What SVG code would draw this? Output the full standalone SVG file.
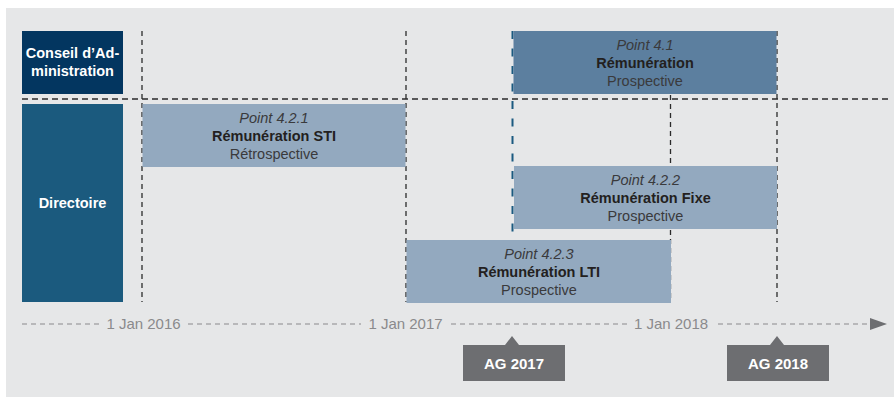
<svg xmlns="http://www.w3.org/2000/svg" width="894" height="397" viewBox="0 0 894 397">
<style>
  text { font-family: "Liberation Sans", Arial, Helvetica, sans-serif; text-anchor: middle; }
  .lbl { fill: #ffffff; font-weight: bold; font-size: 14.5px; }
  .it { font-style: italic; font-size: 14.5px; fill: #3a3a3c; }
  .bd { font-weight: bold; font-size: 14.5px; fill: #231f20; }
  .rg { font-size: 14.5px; fill: #3a3a3c; }
  .date { font-size: 15px; fill: #8a8a8c; }
  .ag { font-size: 15px; font-weight: bold; fill: #ffffff; }
  .vd { stroke: #2b2b2b; stroke-width: 1.3; stroke-dasharray: 5 4; fill: none; }
  .hd { stroke: #2b2b2b; stroke-width: 1.3; stroke-dasharray: 6 4; fill: none; }
  .tl { stroke: #8a8a8c; stroke-width: 1.2; stroke-dasharray: 5 4; fill: none; }
  .light { fill: #93a9bf; }
</style>
<rect x="6" y="8" width="888" height="389" fill="#e6e7e8"/>

<g id="connectors">
  <line class="hd" x1="22" y1="99" x2="888" y2="99"/>
  <line class="vd" x1="142" y1="31" x2="142" y2="302"/>
  <line class="vd" x1="406" y1="31" x2="406" y2="302"/>
  <line class="vd" x1="670.5" y1="95" x2="670.5" y2="302"/>
  <line class="vd" x1="777" y1="31" x2="777" y2="302"/>
  <line x1="512.5" y1="31" x2="512.5" y2="232" stroke="#1b5a80" stroke-width="2" stroke-dasharray="8 9.5"/>
  <line class="tl" x1="22" y1="324" x2="100" y2="324"/>
  <line class="tl" x1="188" y1="324" x2="361" y2="324"/>
  <line class="tl" x1="451" y1="324" x2="628" y2="324"/>
  <line class="tl" x1="718" y1="324" x2="870" y2="324"/>
  <polygon points="870,318 887,324 870,330" fill="#6d6e71"/>
</g>

<g id="conseil">
  <rect x="22" y="31" width="101" height="63" fill="#033660"/>
  <text class="lbl" x="72.5" y="58">Conseil d’Ad-</text>
  <text class="lbl" x="72.5" y="76">ministration</text>
</g>
<g id="directoire">
  <rect x="22" y="104" width="101" height="198" fill="#1b5a7e"/>
  <text class="lbl" x="72.5" y="208">Directoire</text>
</g>

<g id="point-4-2-1">
  <rect class="light" x="142.5" y="104" width="263" height="63"/>
  <text class="it" x="274" y="122.5">Point 4.2.1</text>
  <text class="bd" x="274" y="141">Rémunération STI</text>
  <text class="rg" x="274" y="159">Rétrospective</text>
</g>
<g id="point-4-1">
  <rect x="513.5" y="31" width="263" height="63" fill="#5c7f9f"/>
  <text class="it" x="645" y="49.5">Point 4.1</text>
  <text class="bd" x="645" y="68">Rémunération</text>
  <text class="rg" x="645" y="86">Prospective</text>
</g>
<g id="point-4-2-2">
  <rect class="light" x="514" y="166" width="263" height="63"/>
  <text class="it" x="645.5" y="184.5">Point 4.2.2</text>
  <text class="bd" x="645.5" y="203">Rémunération Fixe</text>
  <text class="rg" x="645.5" y="221">Prospective</text>
</g>
<g id="point-4-2-3">
  <rect class="light" x="406.5" y="240" width="264.5" height="63"/>
  <text class="it" x="539" y="258.5">Point 4.2.3</text>
  <text class="bd" x="539" y="277">Rémunération LTI</text>
  <text class="rg" x="539" y="295">Prospective</text>
</g>

<g id="dates">
  <text class="date" x="143.5" y="329">1 Jan 2016</text>
  <text class="date" x="405.5" y="329">1 Jan 2017</text>
  <text class="date" x="671" y="329">1 Jan 2018</text>
</g>

<g id="ag-2017">
  <polygon points="463,345 505,345 512,336 519,345 565,345 565,381 463,381" fill="#6d6e71"/>
  <text class="ag" x="514" y="369">AG 2017</text>
</g>
<g id="ag-2018">
  <polygon points="727,345 770,345 777,336 784,345 829,345 829,381 727,381" fill="#6d6e71"/>
  <text class="ag" x="778" y="369">AG 2018</text>
</g>
</svg>
